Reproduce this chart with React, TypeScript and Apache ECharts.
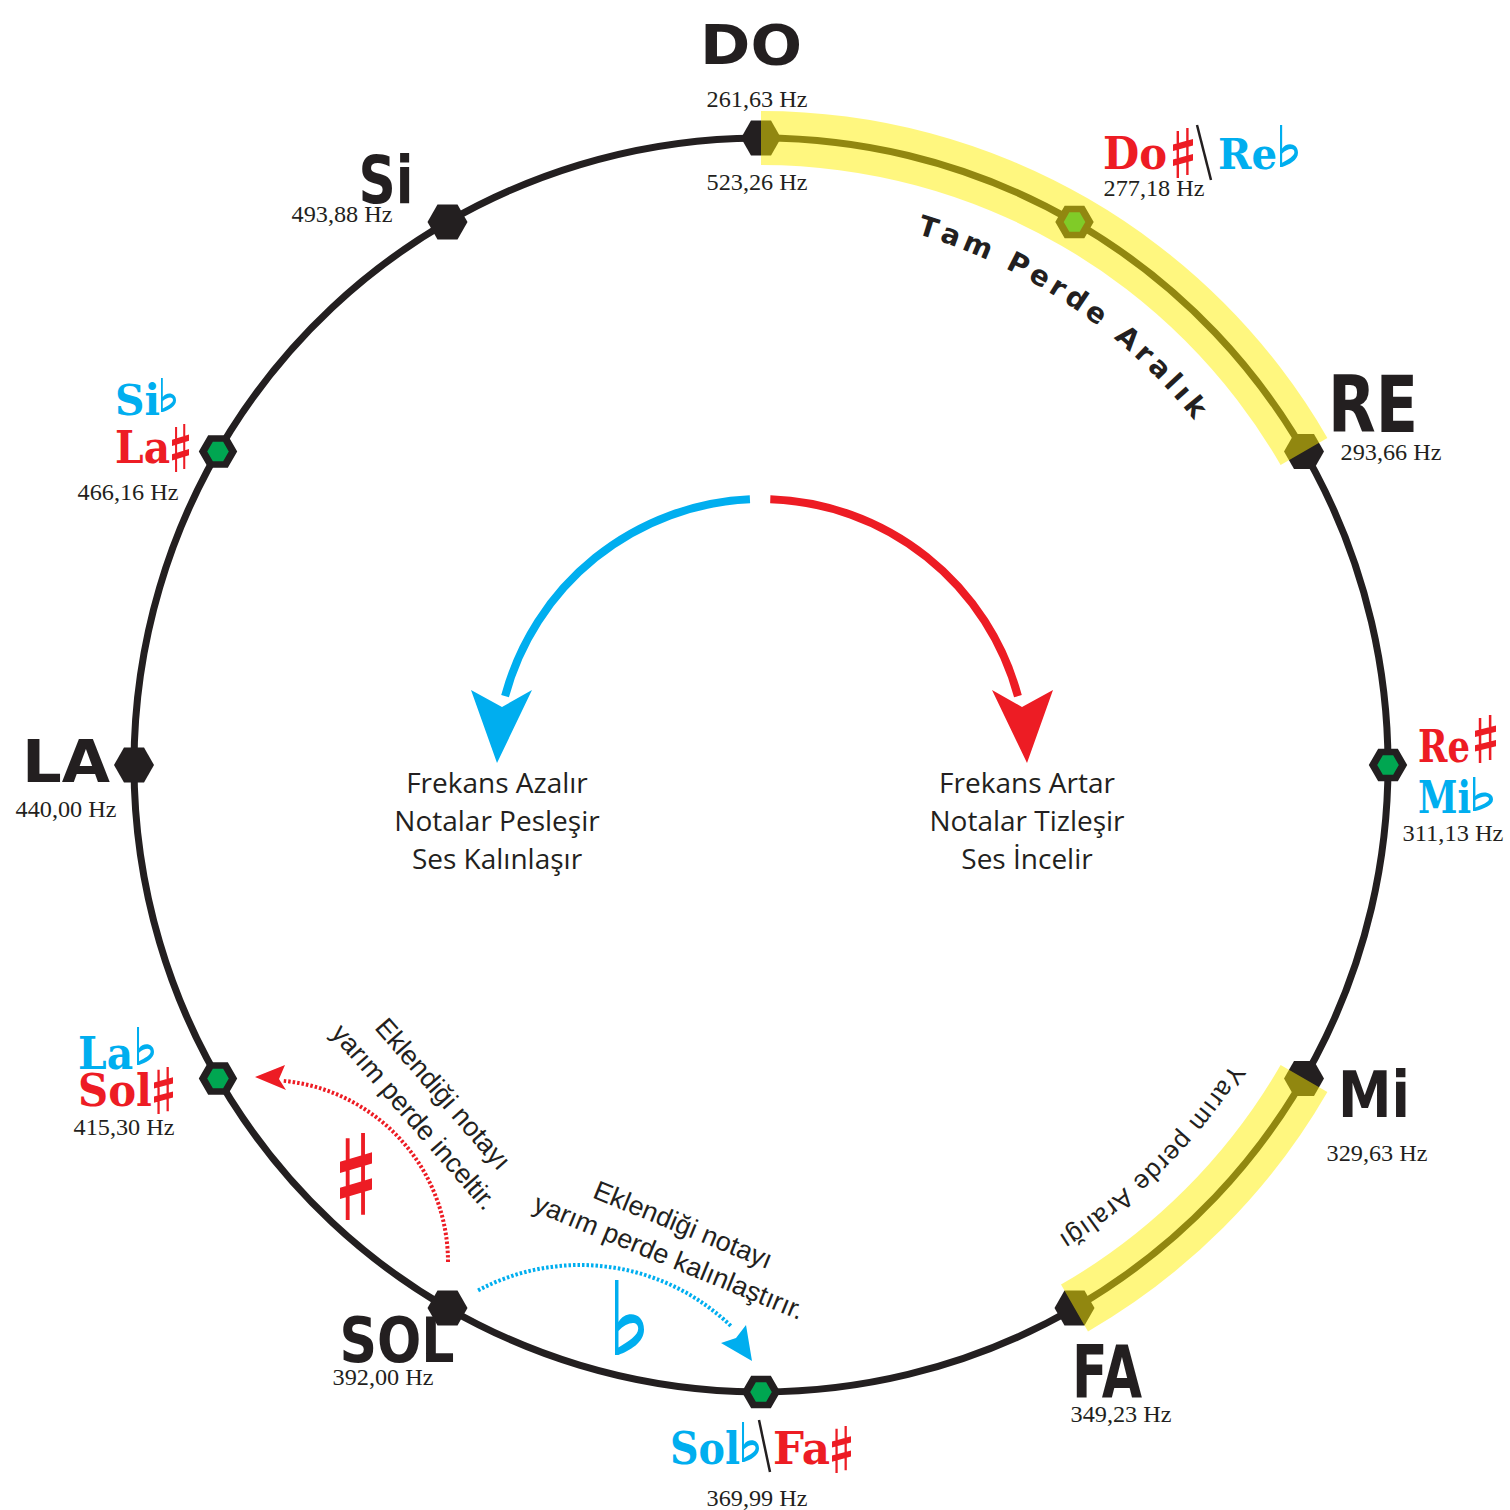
import React, { useEffect, useRef } from 'react';
import * as echarts from 'echarts';

// ---------------- data ----------------
const noteSteps = [0, 1, 2, 3, 4, 5, 6, 7, 8, 9, 10, 11];
const naturalSteps = [0, 2, 4, 5, 7, 9, 11];
const naturalNames = ['DO', 'RE', 'Mi', 'FA', 'SOL', 'LA', 'Si'];
const accidentalSteps = [1, 3, 6, 8, 10];
const sharpNames = ['Do', 'Re', 'Fa', 'Sol', 'La'];
const flatNames = ['Re', 'Mi', 'Sol', 'La', 'Si'];
const frequencyLabels = [
  '261,63 Hz', '277,18 Hz', '293,66 Hz', '311,13 Hz', '329,63 Hz', '349,23 Hz',
  '369,99 Hz', '392,00 Hz', '415,30 Hz', '440,00 Hz', '466,16 Hz', '493,88 Hz',
];
const octaveLabel = '523,26 Hz';
const bandFrom = [0, 4];
const bandTo = [2, 5];
const bandTitles = ['Tam Perde Aralık', 'Yarım perde Aralığı'];
const lowerCaption = ['Frekans Azalır', 'Notalar Pesleşir', 'Ses Kalınlaşır'];
const higherCaption = ['Frekans Artar', 'Notalar Tizleşir', 'Ses İncelir'];
const sharpCaption = ['Eklendiği notayı', 'yarım perde inceltir.'];
const flatCaption = ['Eklendiği notayı', 'yarım perde kalınlaştırır.'];

// ---------------- layout / style ----------------
const CX = 761, CY = 765, R = 627;
const INK = '#231f20', RED = '#ed1c24', BLUE = '#00aeef', GREEN = '#00a651';
const DEG = Math.PI / 180;

// natural labels: [cx, cy, width, capHeight]
const naturalLayout = [
  [751, 42, 102, 40],
  [1373, 401, 90, 57],
  [1374, 1091, 72, 47],
  [1107, 1368, 70, 53],
  [397, 1336, 115, 46],
  [66, 758, 88, 43],
  [386, 176, 55, 48],
];
// frequency label centres per step
const hzLayout = [
  [757, 99], [1154, 188], [1391, 452], [1453, 833], [1377, 1153], [1121, 1414],
  [757, 1498], [383, 1377], [124, 1127], [66, 809], [128, 492], [342, 214],
];
const octaveLayout = [757, 182];
// accidental labels: x0, x1, capCentreY, accidental box [x, y, w, h]
const sharpLayout = [
  { x0: 1103, x1: 1167, yc: 151, acc: [1173, 128, 20, 50] },
  { x0: 1418, x1: 1470, yc: 744, acc: [1475, 715, 21, 48] },
  { x0: 773, x1: 830, yc: 1446, acc: [832, 1426, 19, 47] },
  { x0: 78, x1: 152, yc: 1088, acc: [154, 1067, 19, 47] },
  { x0: 115, x1: 170, yc: 445, acc: [172, 424, 17, 48] },
];
const flatLayout = [
  { x0: 1218, x1: 1277, yc: 151, acc: [1280, 125, 18, 42] },
  { x0: 1418, x1: 1471, yc: 794, acc: [1473, 777, 20, 34] },
  { x0: 670, x1: 740, yc: 1446, acc: [742, 1422, 17, 40] },
  { x0: 78, x1: 133, yc: 1051, acc: [137, 1027, 17, 38] },
  { x0: 115, x1: 160, yc: 397, acc: [161, 378, 15, 34] },
];
const slashLayout = [
  [1197, 125, 1211, 180],
  [759, 1420, 770, 1472],
];

const SHARP_D =
  'M18,6 L30,6 L30,100 L18,100 Z M66,0 L78,0 L78,94 L66,94 Z ' +
  'M0,33 L100,22 L100,35 L0,46 Z M0,63 L100,52 L100,65 L0,76 Z';
const FLAT_D =
  'M0,0 L12,0 L12,56 C35,40 100,42 100,66 C100,84 50,94 12,100 L0,100 Z ' +
  'M12,90 C45,82 80,74 80,65 C80,53 40,56 12,68 Z';

echarts.graphic.registerShape('sharpSign', echarts.graphic.extendPath(SHARP_D, {}));
echarts.graphic.registerShape('flatSign', echarts.graphic.extendPath(FLAT_D, {}));

let mctx: CanvasRenderingContext2D | null = null;
function measure(text: string, font: string): number {
  if (!mctx) mctx = document.createElement('canvas').getContext('2d');
  mctx!.font = font;
  return mctx!.measureText(text).width;
}

function textEl(x: number, y: number, text: string, o: any) {
  const align = o.align || 'center';
  const va = o.va || 'middle';
  return {
    type: 'text',
    x,
    y,
    rotation: o.rotation || 0,
    scaleX: o.scaleX || 1,
    z: o.z || 10,
    style: {
      text,
      fill: o.fill || INK,
      fontSize: o.size,
      fontFamily: o.family,
      fontWeight: o.weight || 'normal',
      align,
      verticalAlign: va,
      textAlign: align,
      textVerticalAlign: va,
    },
  };
}

function arcLetters(text: string, size: number, family: string, weight: string,
  r: number, deg0: number, deg1: number) {
  const font = `${weight} ${size}px "${family}"`;
  const chars = Array.from(text);
  const w = chars.map((c) => measure(c, font));
  const n = chars.length;
  const L = r * (deg1 - deg0) * DEG;
  let natural = 0;
  for (let i = 1; i < n; i++) natural += (w[i - 1] + w[i]) / 2;
  const sp = (L - natural) / (n - 1);
  const out: any[] = [];
  let s = 0;
  for (let i = 0; i < n; i++) {
    if (i > 0) s += (w[i - 1] + w[i]) / 2 + sp;
    if (chars[i] === ' ') continue;
    const phi = deg0 * DEG + s / r;
    out.push(textEl(CX + r * Math.sin(phi), CY - r * Math.cos(phi), chars[i], {
      size, family, weight, rotation: -phi,
    }));
  }
  return out;
}

function buildGraphics() {
  const els: any[] = [];
  // natural note names
  naturalSteps.forEach((step, k) => {
    const [cx, cy, w, capH] = naturalLayout[k];
    const fs = capH / 0.73;
    const sx = w / measure(naturalNames[k], `bold ${fs}px "DejaVu Sans"`);
    els.push(textEl(cx, cy + 0.06 * fs, naturalNames[k], {
      size: fs, family: 'DejaVu Sans', weight: 'bold', scaleX: sx,
    }));
  });
  // accidental names
  const accFs = 32 / 0.73;
  const addAcc = (name: string, lay: any, color: string, shape: string) => {
    const sx = (lay.x1 - lay.x0) / measure(name, `bold ${accFs}px "DejaVu Serif"`);
    els.push(textEl(lay.x0, lay.yc + 0.06 * accFs, name, {
      size: accFs, family: 'DejaVu Serif', weight: 'bold', scaleX: sx, fill: color, align: 'left',
    }));
    const [ax, ay, aw, ah] = lay.acc;
    els.push({ type: shape, x: ax, y: ay, scaleX: aw / 100, scaleY: ah / 100, z: 10, style: { fill: color } });
  };
  accidentalSteps.forEach((step, k) => {
    addAcc(sharpNames[k], sharpLayout[k], RED, 'sharpSign');
    addAcc(flatNames[k], flatLayout[k], BLUE, 'flatSign');
  });
  slashLayout.forEach(([x1, y1, x2, y2]) => {
    els.push({ type: 'line', z: 10, shape: { x1, y1, x2, y2 }, style: { stroke: INK, lineWidth: 2.5 } });
  });
  // frequencies
  const hzFont = '24px "Liberation Serif"';
  noteSteps.forEach((step) => {
    const [x, y] = hzLayout[step];
    const sx = 101 / measure(frequencyLabels[step], hzFont);
    els.push(textEl(x, y, frequencyLabels[step], { size: 24, family: 'Liberation Serif', scaleX: sx }));
  });
  {
    const sx = 101 / measure(octaveLabel, hzFont);
    els.push(textEl(octaveLayout[0], octaveLayout[1], octaveLabel, { size: 24, family: 'Liberation Serif', scaleX: sx }));
  }
  // interval titles along the circle
  els.push(...arcLetters(bandTitles[0], 28, 'DejaVu Sans', 'bold', 563, 17.3, 50.5));
  els.push(...arcLetters(bandTitles[1], 26, 'Liberation Sans', 'normal', 566, 123.2, 147.4));

  // central arrows
  els.push({
    type: 'arc', z: 5,
    shape: { cx: 762, cy: 765, r: 266, startAngle: -92.6 * DEG, endAngle: -165 * DEG, clockwise: false },
    style: { stroke: BLUE, lineWidth: 8, fill: null },
  });
  els.push({
    type: 'polygon', z: 5,
    shape: { points: [[497, 763], [471, 690], [502, 707], [532, 690]] },
    style: { fill: BLUE },
  });
  els.push({
    type: 'arc', z: 5,
    shape: { cx: 761, cy: 765, r: 266, startAngle: -88 * DEG, endAngle: -15 * DEG, clockwise: true },
    style: { stroke: RED, lineWidth: 8, fill: null },
  });
  els.push({
    type: 'polygon', z: 5,
    shape: { points: [[1027, 763], [1053, 690], [1022, 707], [992, 690]] },
    style: { fill: RED },
  });
  lowerCaption.forEach((t, i) => {
    els.push(textEl(497, 782 + i * 38, t, { size: 28, family: 'Open Sans' }));
  });
  higherCaption.forEach((t, i) => {
    els.push(textEl(1027, 782 + i * 38, t, { size: 28, family: 'Open Sans' }));
  });

  // sharp explanation (red dotted arc)
  els.push({
    type: 'arc', z: 5,
    shape: { cx: 266, cy: 1262, r: 182, startAngle: 0, endAngle: -84.6 * DEG, clockwise: false },
    style: { stroke: RED, lineWidth: 4, lineDash: [2.5, 2], fill: null },
  });
  els.push({
    type: 'polygon', z: 5,
    shape: { points: [[255, 1077], [285, 1065], [279, 1079], [286, 1090]] },
    style: { fill: RED },
  });
  els.push({ type: 'sharpSign', x: 340, y: 1133, scaleX: 0.32, scaleY: 0.87, z: 5, style: { fill: RED } });
  const rotS = -49 * DEG;
  els.push(textEl(443, 1094, sharpCaption[0], { size: 27, family: 'Liberation Sans', rotation: rotS }));
  els.push(textEl(414, 1117, sharpCaption[1], { size: 27, family: 'Liberation Sans', rotation: rotS }));

  // flat explanation (blue dotted arc)
  els.push({
    type: 'arc', z: 5,
    shape: { cx: 580, cy: 1482, r: 217, startAngle: -118 * DEG, endAngle: -46 * DEG, clockwise: true },
    style: { stroke: BLUE, lineWidth: 4, lineDash: [2.5, 2], fill: null },
  });
  els.push({
    type: 'polygon', z: 5,
    shape: { points: [[752, 1361], [721, 1343], [736, 1338], [746, 1325]] },
    style: { fill: BLUE },
  });
  els.push({ type: 'flatSign', x: 615, y: 1280, scaleX: 0.29, scaleY: 0.75, z: 5, style: { fill: BLUE } });
  const rotF = -22.3 * DEG;
  els.push(textEl(683, 1225, flatCaption[0], { size: 27, family: 'Liberation Sans', rotation: rotF }));
  els.push(textEl(669, 1257, flatCaption[1], { size: 27, family: 'Liberation Sans', rotation: rotF }));
  return els;
}

const HEX = 'path://M-10,0L-5,-8.66L5,-8.66L10,0L5,8.66L-5,8.66Z';

function buildOption(): any {
  return {
    animation: false,
    backgroundColor: '#ffffff',
    polar: { center: [CX, CY], radius: R },
    angleAxis: {
      type: 'value', min: 0, max: 12, startAngle: 90, clockwise: true,
      axisLine: { show: true, lineStyle: { color: INK, width: 7 } },
      axisTick: { show: false }, axisLabel: { show: false }, splitLine: { show: false },
    },
    radiusAxis: {
      type: 'value', min: 0, max: 1,
      axisLine: { show: false }, axisTick: { show: false }, axisLabel: { show: false }, splitLine: { show: false },
    },
    series: [
      {
        type: 'scatter',
        coordinateSystem: 'polar',
        z: 3,
        silent: true,
        symbol: HEX,
        data: noteSteps.map((step) => {
          const acc = accidentalSteps.indexOf(step) >= 0;
          return acc
            ? { value: [1, step], symbolSize: [30, 26], itemStyle: { color: GREEN, borderColor: INK, borderWidth: 7, opacity: 1 } }
            : { value: [1, step], symbolSize: [40, 35], itemStyle: { color: INK, borderWidth: 0, opacity: 1 } };
        }),
      },
      {
        type: 'custom',
        coordinateSystem: 'polar',
        z: 6,
        silent: true,
        encode: { radius: 0, angle: 1 },
        data: bandFrom.map((f, i) => [1, f, bandTo[i]]),
        renderItem: (params: any, api: any) => {
          const cs = params.coordSys;
          const p0 = api.coord([api.value(0), api.value(1)]);
          const p1 = api.coord([api.value(0), api.value(2)]);
          const a0 = Math.atan2(p0[1] - cs.cy, p0[0] - cs.cx);
          const a1 = Math.atan2(p1[1] - cs.cy, p1[0] - cs.cx);
          const rr = Math.hypot(p0[0] - cs.cx, p0[1] - cs.cy);
          return {
            type: 'sector',
            shape: { cx: cs.cx, cy: cs.cy, r0: rr - 27, r: rr + 27, startAngle: a0, endAngle: a1, clockwise: true },
            style: { fill: 'rgba(255,240,0,0.5)' },
          };
        },
      },
    ],
    graphic: { elements: buildGraphics() },
  };
}

export default function App() {
  const ref = useRef<HTMLDivElement>(null);
  useEffect(() => {
    const chart = echarts.init(ref.current!, null, { renderer: 'svg' });
    chart.setOption(buildOption());
    return () => chart.dispose();
  }, []);
  return (
    <div
      ref={ref}
      style={{ position: 'fixed', left: 0, top: 0, width: 1510, height: 1510, background: '#fff' }}
    />
  );
}
